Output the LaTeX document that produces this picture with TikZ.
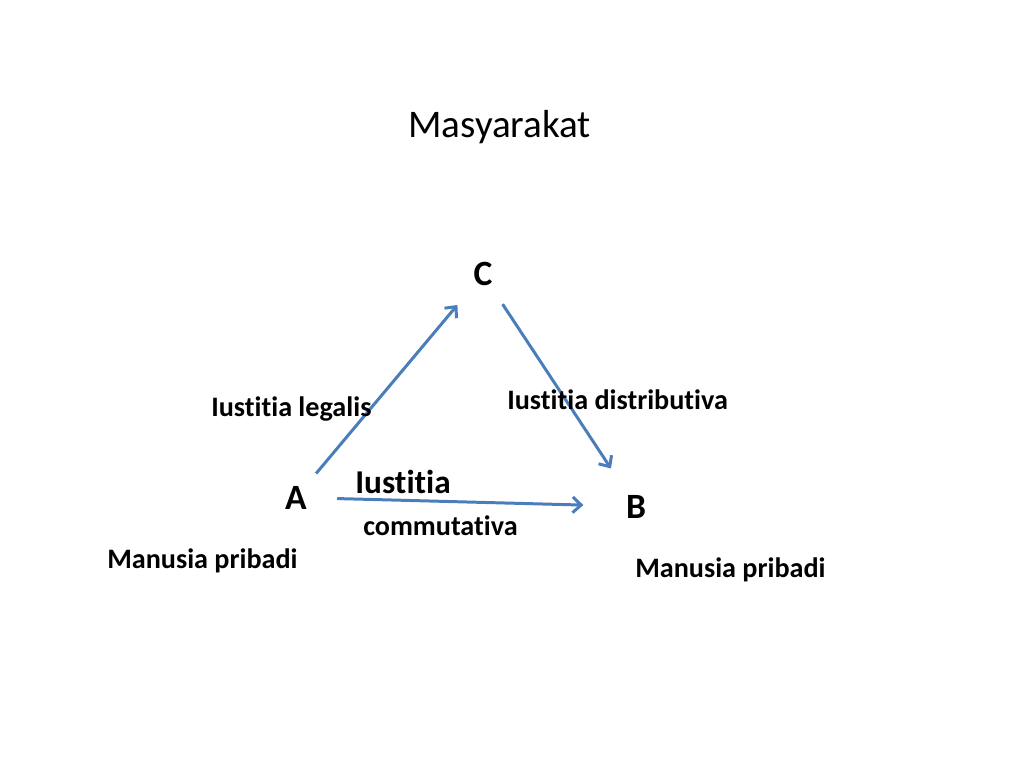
\documentclass[tikz,border=0pt]{standalone}
\usepackage{fontspec}
\setmainfont{Carlito}[Ligatures=CommonOff]
\usepackage{tikz}
\usetikzlibrary{arrows.meta,calc}
\definecolor{arrowblue}{HTML}{4A7EBB}

\begin{document}
\begin{tikzpicture}[x=0.703125pt, y=-0.703125pt,
  lbl/.style={inner sep=0pt, anchor=base west, font=\bfseries\fontsize{19.8}{22}\selectfont},
  letter/.style={inner sep=0pt, anchor=base, font=\bfseries\fontsize{25}{29}\selectfont},
  arr/.style={draw=arrowblue, line width=2.1pt, -{Straight Barb[length=6pt,width=11pt]}}]
\useasboundingbox (0,0) rectangle (1024,768);
\node[inner sep=0pt, anchor=base west, font=\fontsize{27.5}{32}\selectfont] (title) at (408,138) {Masyarakat};
% the three parties
\node[letter] (C) at (483,286) {C};
\node[letter] (A) at (296,509) {A};
\node[letter] (B) at (636,518) {B};
% connectors
\draw[arr, shorten <=22pt, shorten >=28pt] (A.center) -- (C.center);
\draw[arr, shorten <=25pt, shorten >=32pt] (C.center) -- (B.center);
\draw[arr, shorten <=29pt, shorten >=37pt] (A.center) -- (B.center);
% labels
\node[lbl] (legalis) at (211,416) {Iustitia legalis};
\node[lbl] (distrib) at (507,409) {Iustitia distributiva};
\node[lbl, font=\bfseries\fontsize{23.4}{28}\selectfont] (iust) at (355,493) {Iustitia};
\node[lbl] (commut) at (363,535) {commutativa};
\node[lbl] (persA) at (107,568) {Manusia pribadi};
\node[lbl] (persB) at (635,577) {Manusia pribadi};
\end{tikzpicture}
\end{document}
